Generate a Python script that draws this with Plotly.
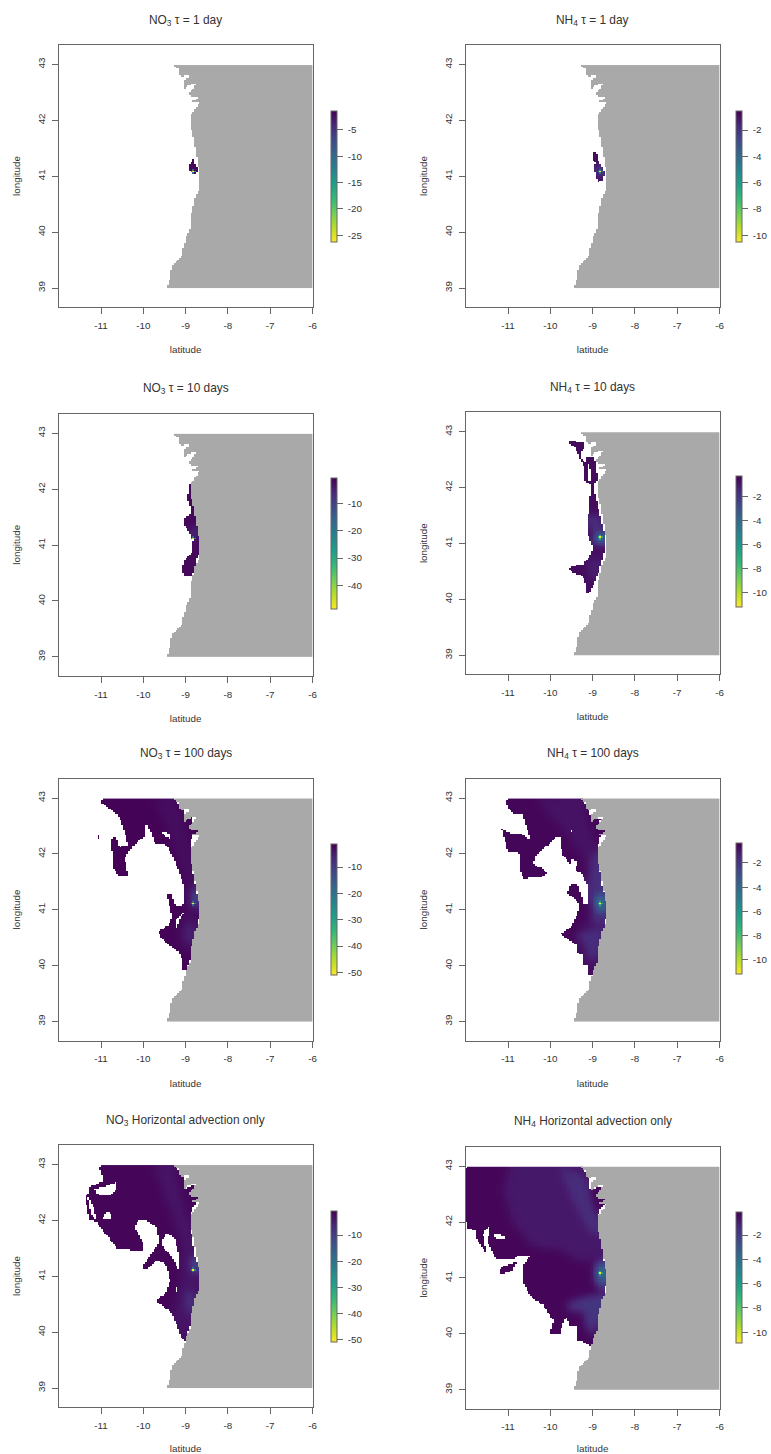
import numpy as np
import plotly.graph_objects as go

TITLES = ["NO<sub>3</sub> τ = 1 day", "NH<sub>4</sub> τ = 1 day",
          "NO<sub>3</sub> τ = 10 days", "NH<sub>4</sub> τ = 10 days",
          "NO<sub>3</sub> τ = 100 days", "NH<sub>4</sub> τ = 100 days",
          "NO<sub>3</sub> Horizontal advection only", "NH<sub>4</sub> Horizontal advection only"]
X_TICKS = [-11, -10, -9, -8, -7, -6]
X_LABELS = ["-11", "-10", "-9", "-8", "-7", "-6"]
Y_TICKS = [39, 40, 41, 42, 43]
Y_LABELS = ["39", "40", "41", "42", "43"]

# Land outline (lon, lat)
LAND = [(-9.29, 43.0), (-9.28, 42.95), (-9.175, 42.93), (-9.14, 42.81), (-9.075, 42.77), (-8.96, 42.83),
        (-8.90, 42.79), (-9.06, 42.69), (-9.04, 42.57), (-8.86, 42.66), (-8.77, 42.66), (-8.80, 42.57),
        (-8.90, 42.50), (-8.94, 42.44), (-8.67, 42.42), (-8.78, 42.37), (-8.94, 42.32), (-8.67, 42.34),
        (-8.74, 42.25), (-8.88, 42.10), (-8.89, 41.89), (-8.84, 41.77), (-8.78, 41.53), (-8.74, 41.35),
        (-8.70, 41.17), (-8.66, 41.02), (-8.70, 40.75), (-8.78, 40.63), (-8.82, 40.46), (-8.90, 40.22),
        (-8.86, 40.13), (-8.98, 39.92), (-9.07, 39.68), (-9.10, 39.56), (-9.33, 39.40), (-9.36, 39.20),
        (-9.44, 39.0), (-6.0, 39.0), (-6.0, 43.0)]

# Plume outlines and inner zones: (value, outline); None clears cells
NO3_1 = [(-1.8, [(-8.82, 41.30), (-8.77, 41.19), (-8.71, 41.11), (-8.76, 41.05), (-8.89, 41.08), (-8.95, 41.16), (-8.90, 41.23)])]
NO3_1_HOT = [(-8.81, 41.10, -26.2), (-8.77, 41.10, -14), (-8.85, 41.10, -14), (-8.81, 41.13, -10), (-8.81, 41.07, -10)]

NH4_1 = [(-0.9, [(-8.98, 41.44), (-8.91, 41.44), (-8.88, 41.32), (-8.80, 41.17), (-8.72, 41.08), (-8.76, 40.93), (-8.88, 40.90), (-8.93, 41.05), (-8.98, 41.14), (-8.93, 41.23), (-9.02, 41.32)]),
         (-3.2, [(-8.89, 41.17), (-8.78, 41.17), (-8.76, 41.04), (-8.87, 41.04)])]
NH4_1_HOT = [(-8.82, 41.10, -10.5), (-8.78, 41.10, -5), (-8.85, 41.10, -5), (-8.82, 41.13, -4), (-8.82, 41.07, -4)]

NO3_10 = [(-1.5, [(-8.93, 42.08), (-8.86, 42.08), (-8.86, 41.89), (-8.82, 41.74), (-8.78, 41.54), (-8.74, 41.36), (-8.70, 41.18), (-8.64, 41.02), (-8.67, 40.88), (-8.74, 40.78), (-8.79, 40.58), (-8.84, 40.43), (-9.02, 40.43), (-9.08, 40.55), (-9.04, 40.73), (-8.90, 40.82), (-8.82, 40.91), (-8.86, 41.0), (-8.81, 41.08), (-8.90, 41.18), (-8.96, 41.30), (-9.06, 41.36), (-9.02, 41.49), (-8.90, 41.54), (-8.90, 41.71), (-8.96, 41.83), (-8.94, 41.92)]),
          (-10, [(-8.85, 41.34), (-8.79, 41.34), (-8.76, 41.12), (-8.84, 41.12)])]
NO3_10_HOT = [(-8.81, 41.11, -46), (-8.77, 41.11, -20), (-8.85, 41.11, -20), (-8.81, 41.14, -16)]

NH4_10 = [(-0.6, [(-9.55, 42.83), (-9.22, 42.82), (-9.205, 42.72), (-9.26, 42.66), (-9.285, 42.54), (-9.18, 42.45), (-9.14, 42.51), (-9.18, 42.55), (-8.98, 42.54), (-8.93, 42.45), (-8.88, 42.15), (-8.98, 42.03), (-8.94, 41.89), (-8.87, 41.65), (-8.80, 41.41), (-8.71, 41.14), (-8.71, 40.93), (-8.79, 40.69), (-8.87, 40.45), (-8.98, 40.25), (-9.10, 40.10), (-9.18, 40.11), (-9.18, 40.30), (-9.24, 40.42), (-9.395, 40.45), (-9.58, 40.54), (-9.46, 40.60), (-9.22, 40.63), (-9.10, 40.75), (-8.98, 40.90), (-9.08, 41.08), (-9.14, 41.26), (-9.14, 41.41), (-9.08, 41.59), (-9.095, 41.70), (-9.06, 41.85), (-9.06, 42.06), (-9.18, 42.12), (-9.205, 42.36), (-9.38, 42.66), (-9.42, 42.72), (-9.55, 42.78)]),
          (None, [(-9.13, 42.39), (-9.08, 42.42), (-9.02, 42.12), (-9.13, 42.12)]),
          (-2.2, [(-9.08, 41.50), (-8.905, 41.50), (-8.83, 41.2), (-9.02, 41.26)]),
          (-1.4, [(-9.06, 40.69), (-8.83, 40.75), (-8.945, 40.40), (-9.08, 40.33)]),
          (-6, [(-8.945, 41.2), (-8.79, 41.2), (-8.75, 41.02), (-8.905, 41.02)])]
NH4_10_HOT = [(-8.82, 41.11, -11), (-8.78, 41.11, -7), (-8.86, 41.11, -7), (-8.82, 41.14, -7), (-8.82, 41.08, -7)]

NO3_100 = [(-1.6, [(-10.99, 42.95), (-10.91, 43.0), (-9.29, 43.0), (-9.26, 42.97), (-9.06, 42.82), (-9.04, 42.61), (-8.82, 42.67), (-8.86, 42.46), (-8.70, 42.43), (-8.86, 42.28), (-8.89, 42.13), (-8.86, 41.83), (-8.78, 41.41), (-8.67, 41.06), (-8.70, 40.82), (-8.78, 40.52), (-8.86, 40.19), (-8.98, 39.92), (-9.07, 39.94), (-9.10, 40.13), (-9.18, 40.25), (-9.45, 40.40), (-9.665, 40.59), (-9.41, 40.73), (-9.31, 40.88), (-9.37, 41.03), (-9.45, 41.27), (-9.33, 41.29), (-9.29, 41.14), (-9.20, 41.05), (-9.04, 41.10), (-9.02, 41.35), (-9.12, 41.59), (-9.18, 41.74), (-9.33, 41.98), (-9.44, 42.16), (-9.73, 42.19), (-9.89, 42.52), (-9.94, 42.52), (-9.97, 42.31), (-10.28, 42.13), (-10.44, 41.92), (-10.36, 41.62), (-10.60, 41.62), (-10.71, 41.74), (-10.73, 41.98), (-10.77, 42.25), (-10.67, 42.31), (-10.56, 42.13), (-10.36, 42.16), (-10.48, 42.49), (-10.60, 42.70), (-10.75, 42.785), (-10.99, 42.92)]),
           (-1.6, [(-11.08, 42.33), (-11.05, 42.33), (-11.05, 42.27), (-11.08, 42.27)]),
           (None, [(-9.26, 40.70), (-9.26, 40.82), (-9.04, 40.95), (-9.15, 40.82), (-9.20, 40.67)]),
           (None, [(-9.57, 42.40), (-9.29, 42.34), (-9.37, 42.28), (-9.53, 42.34)]),
           (None, [(-9.45, 42.22), (-9.29, 42.16), (-9.41, 42.19)]),
           (-3, [(-9.77, 42.96), (-9.29, 42.99), (-9.04, 42.58), (-8.86, 41.83), (-8.76, 41.35), (-8.67, 41.06), (-8.78, 40.52), (-8.94, 40.16), (-9.22, 40.52), (-9.02, 40.94), (-8.94, 41.35), (-9.18, 41.95), (-9.41, 42.43)]),
           (-7, [(-9.0, 40.70), (-8.82, 40.80), (-8.86, 40.40), (-8.98, 40.40)]),
           (-14, [(-8.86, 41.40), (-8.76, 41.35), (-8.70, 41.06), (-8.86, 41.08)])]
NO3_100_HOT = [(-8.81, 41.11, -51), (-8.77, 41.11, -24), (-8.85, 41.11, -24), (-8.81, 41.14, -20), (-8.81, 41.08, -20)]

NH4_100 = [(-0.5, [(-11.04, 42.93), (-10.96, 43.0), (-9.28, 43.0), (-9.10, 42.82), (-9.05, 42.64), (-8.79, 42.64), (-8.89, 42.46), (-8.67, 42.43), (-8.83, 42.28), (-8.89, 42.10), (-8.87, 41.83), (-8.79, 41.47), (-8.65, 41.06), (-8.73, 40.70), (-8.83, 40.34), (-8.92, 39.98), (-9.03, 39.83), (-9.13, 39.84), (-9.14, 40.01), (-9.24, 40.04), (-9.22, 40.17), (-9.36, 40.23), (-9.38, 40.37), (-9.77, 40.57), (-9.50, 40.70), (-9.38, 40.88), (-9.30, 41.09), (-9.42, 41.20), (-9.60, 41.28), (-9.54, 41.44), (-9.36, 41.47), (-9.30, 41.32), (-9.22, 41.11), (-9.14, 41.11), (-9.14, 41.47), (-9.26, 41.65), (-9.42, 41.71), (-9.34, 41.86), (-9.50, 41.92), (-9.52, 41.80), (-9.73, 42.01), (-9.77, 42.31), (-9.85, 42.31), (-10.37, 41.95), (-10.39, 41.83), (-10.29, 41.74), (-10.21, 41.77), (-10.09, 41.65), (-10.21, 41.58), (-10.64, 41.56), (-10.72, 41.71), (-10.72, 42.01), (-11.0, 42.04), (-11.04, 42.16), (-11.16, 42.46), (-10.96, 42.37), (-10.64, 42.34), (-10.46, 42.24), (-10.60, 42.55), (-10.64, 42.73), (-10.88, 42.73), (-11.03, 42.87)]),
           (-0.9, [(-10.33, 42.96), (-9.28, 42.99), (-8.89, 42.10), (-8.79, 41.47), (-8.65, 41.06), (-8.83, 40.34), (-9.02, 39.83), (-9.22, 40.16), (-9.42, 40.52), (-9.14, 40.82), (-9.10, 41.35), (-9.22, 41.95), (-9.77, 42.49)]),
           (-1.8, [(-9.02, 41.92), (-8.89, 42.10), (-8.79, 41.47), (-8.71, 41.06), (-8.75, 40.70), (-9.02, 40.82), (-8.95, 41.09), (-9.10, 41.35)]),
           (-1.8, [(-9.42, 40.55), (-8.98, 40.64), (-8.79, 40.70), (-8.91, 40.16), (-9.10, 40.10), (-9.18, 40.40)]),
           (-6, [(-8.92, 41.26), (-8.79, 41.26), (-8.71, 40.97), (-8.87, 40.97)]),
           (None, [(-9.53, 42.42), (-9.46, 42.40), (-9.48, 42.37)])]
NH4_100_HOT = [(-8.81, 41.11, -11.2), (-8.77, 41.11, -7), (-8.85, 41.11, -7), (-8.81, 41.14, -7), (-8.81, 41.08, -7)]

NO3_HA = [(-1.5, [(-11.04, 42.93), (-10.99, 43.0), (-9.28, 43.0), (-9.06, 42.78), (-9.04, 42.56), (-8.78, 42.66), (-8.84, 42.48), (-8.67, 42.42), (-8.84, 42.20), (-8.89, 42.07), (-8.86, 41.77), (-8.78, 41.35), (-8.65, 41.02), (-8.70, 40.75), (-8.78, 40.46), (-8.885, 40.13), (-9.02, 39.83), (-9.14, 39.95), (-9.29, 40.28), (-9.37, 40.37), (-9.71, 40.56), (-9.45, 40.72), (-9.37, 40.90), (-9.45, 41.20), (-9.65, 41.30), (-9.94, 41.12), (-10.03, 41.16), (-9.85, 41.35), (-9.65, 41.59), (-9.67, 41.86), (-9.89, 41.98), (-10.12, 42.01), (-10.2, 41.86), (-10.0, 41.59), (-10.02, 41.47), (-10.60, 41.48), (-10.91, 41.77), (-11.12, 41.98), (-11.27, 42.0), (-11.38, 42.42), (-11.28, 42.48), (-11.27, 42.60), (-10.95, 42.70), (-10.99, 42.85)]),
          (None, [(-11.15, 42.56), (-10.95, 42.60), (-10.63, 42.69), (-10.62, 42.57), (-10.79, 42.45), (-11.11, 42.47)]),
          (None, [(-11.32, 42.44), (-11.15, 42.19), (-11.12, 42.01), (-11.23, 42.10), (-11.28, 42.27)]),
          (None, [(-10.95, 42.04), (-10.87, 42.16), (-10.78, 42.13), (-10.75, 42.01), (-10.87, 42.04)]),
          (None, [(-9.57, 41.62), (-9.45, 41.77), (-9.26, 41.68), (-9.14, 41.29), (-9.18, 41.14), (-9.33, 41.35), (-9.53, 41.53)]),
          (None, [(-9.26, 40.79), (-9.20, 40.79), (-9.22, 40.70)]),
          (-3.5, [(-9.77, 42.96), (-9.29, 42.99), (-8.86, 41.77), (-8.78, 41.35), (-8.65, 41.02), (-8.78, 40.46), (-9.02, 39.83), (-9.3, 40.33), (-9.14, 40.9), (-9.08, 41.5), (-9.33, 42.1)]),
          (-8, [(-9.02, 40.7), (-8.78, 40.75), (-8.86, 40.3), (-8.98, 40.4)]),
          (-14, [(-8.86, 41.35), (-8.76, 41.35), (-8.70, 41.06), (-8.86, 41.08)])]
NO3_HA_HOT = [(-8.81, 41.11, -51), (-8.77, 41.11, -24), (-8.85, 41.11, -24), (-8.81, 41.14, -20), (-8.81, 41.08, -20)]

NH4_HA = [(-0.25, [(-12.0, 42.93), (-11.92, 43.0), (-9.28, 43.0), (-9.10, 42.81), (-9.06, 42.6), (-8.76, 42.63), (-8.83, 42.45), (-8.65, 42.39), (-8.83, 42.24), (-8.89, 42.06), (-8.87, 41.80), (-8.76, 41.38), (-8.65, 41.05), (-8.75, 40.66), (-8.83, 40.30), (-8.94, 39.92), (-9.05, 39.76), (-9.10, 39.80), (-9.26, 39.87), (-9.38, 39.87), (-9.34, 40.13), (-9.54, 40.15), (-9.63, 40.30), (-9.73, 40.15), (-9.77, 39.98), (-10.01, 39.98), (-9.93, 40.24), (-10.17, 40.51), (-10.45, 40.66), (-10.66, 40.93), (-10.66, 41.2), (-10.47, 41.41), (-10.76, 41.41), (-10.84, 41.35), (-11.28, 41.35), (-11.47, 41.62), (-11.45, 41.93), (-11.59, 41.79), (-11.51, 41.44), (-11.75, 41.70), (-11.765, 41.85), (-11.95, 41.88), (-12.0, 42.09)]),
          (-0.25, [(-11.21, 41.07), (-11.16, 41.20), (-10.80, 41.29), (-10.88, 41.14), (-11.12, 41.07)]),
          (None, [(-10.13, 41.75), (-10.01, 41.72), (-9.95, 41.51), (-10.05, 41.59)]),
          (None, [(-11.35, 41.79), (-11.24, 41.69), (-11.06, 41.72), (-11.08, 41.77)]),
          (-0.8, [(-10.96, 43.0), (-9.26, 43.0), (-8.89, 42.06), (-8.75, 41.38), (-9.0, 41.32), (-9.38, 41.32), (-9.77, 41.50), (-10.41, 41.56), (-10.88, 41.97), (-11.12, 42.57)]),
          (-1.5, [(-9.77, 42.96), (-9.18, 42.81), (-8.89, 42.06), (-8.87, 41.73), (-9.10, 41.85), (-9.46, 42.39)]),
          (-1.8, [(-9.62, 40.54), (-9.18, 40.66), (-8.73, 40.72), (-8.84, 40.30), (-9.03, 39.95), (-9.16, 40.13), (-9.22, 40.42), (-9.54, 40.42)]),
          (-3, [(-8.94, 41.26), (-8.79, 41.32), (-8.67, 41.05), (-8.75, 40.78), (-8.91, 40.90), (-8.94, 41.08)]),
          (-5, [(-8.89, 41.20), (-8.75, 41.17), (-8.73, 41.02), (-8.87, 40.99)])]
NH4_HA_HOT = [(-8.81, 41.10, -10.9), (-8.77, 41.10, -6), (-8.85, 41.10, -6), (-8.81, 41.13, -6), (-8.81, 41.07, -6)]

PANEL_ZONES = [NO3_1, NH4_1, NO3_10, NH4_10, NO3_100, NH4_100, NO3_HA, NH4_HA]
PANEL_HOT = [NO3_1_HOT, NH4_1_HOT, NO3_10_HOT, NH4_10_HOT, NO3_100_HOT, NH4_100_HOT, NO3_HA_HOT, NH4_HA_HOT]

Z_TOP = [-1.4, -0.53, -0.5, -0.26, -1.25, -0.35, -0.8, -0.1]
Z_BOTTOM = [-26.2, -10.5, -48.8, -11.2, -51, -11.2, -51, -10.9]
BAR_TICKS = [[-5, -10, -15, -20, -25], [-2, -4, -6, -8, -10], [-10, -20, -30, -40], [-2, -4, -6, -8, -10],
             [-10, -20, -30, -40, -50], [-2, -4, -6, -8, -10], [-10, -20, -30, -40, -50], [-2, -4, -6, -8, -10]]

# Page layout, in pixels
BOX_LEFT = [58.7, 465.7] * 4
BOX_TOP = [45, 45, 413.8, 412.2, 778.5, 778.5, 1145, 1146.7]
BOX_W, BOX_H = 253.8, 262
BAR_LEFT = [331, 735.5] * 4
BAR_TOP = [110.7, 110.7, 478, 476, 844, 843, 1211, 1212]
BAR_H = 131
PAGE_W, PAGE_H = 771, 1454
Y_RANGE = [38.66, 43.349]
X_RANGE = [-12, -6]
INK, LINE = "#333333", "#666666"
FONT = "Liberation Sans"

grid_lon = np.arange(-12 + 0.02, -6, 0.04)
grid_lat = np.arange(39 + 0.015, 43, 0.03)
LON, LAT = np.meshgrid(grid_lon, grid_lat)


def inside(poly):
    px, py = np.array(poly).T
    qx, qy = np.roll(px, -1), np.roll(py, -1)
    hit = np.zeros(LON.shape, bool)
    for x0, y0, x1, y1 in zip(px, py, qx, qy):
        if y0 == y1:
            continue
        cross = ((y0 > LAT) != (y1 > LAT)) & (LON < (x1 - x0) * (LAT - y0) / (y1 - y0) + x0)
        hit ^= cross
    return hit


def soften(z, passes=5):
    """Blend neighbouring zone values inside the plume so zone edges do not show."""
    mask = ~np.isnan(z)
    out = np.where(mask, z, 0.0)
    for _ in range(passes):
        num, den = out * mask, mask.astype(float)
        for ax in (0, 1):
            for step in (1, 2):
                num = num + np.roll(out * mask, step, ax) + np.roll(out * mask, -step, ax)
                den = den + np.roll(mask, step, ax) + np.roll(mask, -step, ax)
        out = np.where(mask, num / np.maximum(den, 1), 0.0)
    return np.where(mask, out, np.nan)


land = np.where(inside(LAND), 1.0, np.nan)
fig = go.Figure()
layout = {}
ann = []
label_font = dict(family=FONT, size=9.8, color=INK)
for i in range(8):
    s = "" if i == 0 else str(i + 1)
    x0, x1 = BOX_LEFT[i], BOX_LEFT[i] + BOX_W
    y0, y1 = BOX_TOP[i], BOX_TOP[i] + BOX_H
    common = dict(showgrid=False, zeroline=False, showline=True, mirror=True, linecolor=LINE, linewidth=1,
                  ticks="outside", ticklen=6, tickcolor=LINE, tickfont=label_font,
                  tickmode="array", fixedrange=True, automargin=False)
    layout["xaxis" + s] = dict(common, domain=[x0 / PAGE_W, x1 / PAGE_W], range=X_RANGE, tickvals=X_TICKS,
                               ticktext=X_LABELS, tickangle=0, anchor="y" + s, ticklabelstandoff=3,
                               title=dict(text="latitude", font=label_font, standoff=16))
    layout["yaxis" + s] = dict(common, domain=[1 - y1 / PAGE_H, 1 - y0 / PAGE_H], range=Y_RANGE, tickvals=Y_TICKS,
                               ticktext=Y_LABELS, tickangle=-90, anchor="x" + s, ticklabelstandoff=3,
                               title=dict(text="longitude", font=label_font, standoff=13))
    z = np.full(LON.shape, np.nan)
    for value, poly in PANEL_ZONES[i]:
        mask = inside(poly)
        z[mask] = np.nan if value is None else value
    z = soften(z)
    for lon, lat, value in PANEL_HOT[i]:
        z[np.abs(grid_lat - lat).argmin(), np.abs(grid_lon - lon).argmin()] = value
    z = np.round(z, 2)
    fig.add_trace(go.Heatmap(
        x=np.round(grid_lon, 3), y=np.round(grid_lat, 3), z=z, xaxis="x" + s, yaxis="y" + s,
        colorscale="Viridis", reversescale=True, zmin=Z_BOTTOM[i], zmax=Z_TOP[i], hoverongaps=False,
        colorbar=dict(x=BAR_LEFT[i] / PAGE_W, xanchor="left", y=1 - BAR_TOP[i] / PAGE_H, yanchor="top",
                      len=BAR_H / PAGE_H, lenmode="fraction", thickness=6, thicknessmode="pixels",
                      xpad=0, ypad=0, outlinecolor=LINE, outlinewidth=1, borderwidth=0,
                      tickmode="array", tickvals=BAR_TICKS[i], ticktext=["\u00a0" + str(v) for v in BAR_TICKS[i]],
                      ticks="outside", ticklen=6, tickcolor=LINE, tickfont=label_font)))
    fig.add_trace(go.Heatmap(
        x=np.round(grid_lon, 3), y=np.round(grid_lat, 3), z=land, xaxis="x" + s, yaxis="y" + s,
        colorscale=[[0, "#a9a9a9"], [1, "#a9a9a9"]], showscale=False, hoverinfo="skip", zmin=0, zmax=1))
    cx = (x0 + x1) / 2
    ann.append(dict(text=TITLES[i], x=cx / PAGE_W, y=1 - (y0 - 25) / PAGE_H, xref="paper", yref="paper",
                    xanchor="center", yanchor="middle", showarrow=False,
                    font=dict(family=FONT, size=11.9, color=INK)))

fig.update_layout(width=PAGE_W, height=PAGE_H, margin=dict(l=0, r=0, t=0, b=0, autoexpand=False),
                  paper_bgcolor="white", plot_bgcolor="white", showlegend=False, annotations=ann, **layout)
fig.write_html("out.html", config=dict(displayModeBar=False),
               post_script="document.body.style.margin='0';document.body.style.overflow='hidden';")
